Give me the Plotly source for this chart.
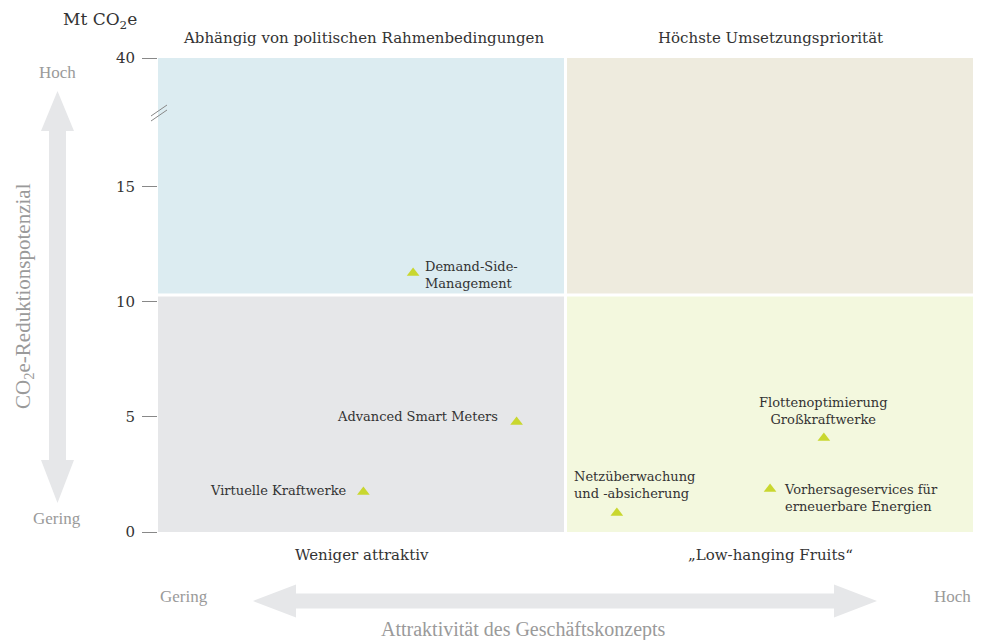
import plotly.graph_objects as go

# ---- data ----
names = ["Demand-Side-<br>Management", "Advanced Smart Meters", "Virtuelle Kraftwerke",
         "Netzüberwachung<br>und -absicherung", "Flottenoptimierung<br>Großkraftwerke",
         "Vorhersageservices für<br>erneuerbare Energien"]
attractiveness = [3.13, 4.40, 2.52, 5.63, 8.17, 7.51]      # 0..10 scale
reduction = [11.26, 4.78, 1.74, 0.83, 4.09, 1.87]          # Mt CO2e
tick_vals = [0, 5, 10, 15, 20.6]
tick_text = ["0", "5", "10", "15", "40"]
quadrant_titles = ["Abhängig von politischen Rahmenbedingungen", "Höchste Umsetzungspriorität",
                   "Weniger attraktiv", "„Low-hanging Fruits“"]

L, R, T, B = 158, 8, 58, 108
W, H = 981, 640
PW, PH = W - L - R, H - T - B

def px(x):
    return (x - L) / PW

def py(y):
    return (H - B - y) / PH

SERIF = "DejaVu Serif"
GREYF = "Liberation Serif"
DARK = "#333333"
GREY = "#9a9a9a"

fig = go.Figure()

# quadrants
XMAX, YMAX, XS, YS = 10, 20.6, 5.0, 10.3
quads = [
    (0, XS, YS, YMAX, "#dcecf1"),
    (XS, XMAX, YS, YMAX, "#eeebde"),
    (0, XS, 0, YS, "#e6e7e9"),
    (XS, XMAX, 0, YS, "#f3f8de"),
]
shapes = []
for x0, x1, y0, y1, c in quads:
    shapes.append(dict(type="rect", xref="x", yref="y", x0=x0, x1=x1, y0=y0, y1=y1,
                       fillcolor=c, line=dict(width=0), layer="below"))
shapes.append(dict(type="line", xref="x", yref="y", x0=XS, x1=XS, y0=0, y1=YMAX,
                   line=dict(color="white", width=3), layer="below"))
shapes.append(dict(type="line", xref="x", yref="y", x0=0, x1=XMAX, y0=YS, y1=YS,
                   line=dict(color="white", width=3), layer="below"))

# axis break mark
for dy in (0, 5):
    shapes.append(dict(type="line", xref="paper", yref="paper",
                       x0=px(151), y0=py(121 - dy), x1=px(167), y1=py(110 - dy),
                       line=dict(color="#888888", width=1)))

# vertical double arrow
cx, sw, hw = 57.5, 8.5, 16.5
top, tb, bb, bot = 91, 131, 460, 503
pts = [(cx, top), (cx + hw, tb), (cx + sw, tb), (cx + sw, bb), (cx + hw, bb), (cx, bot),
       (cx - hw, bb), (cx - sw, bb), (cx - sw, tb), (cx - hw, tb)]
path = "M " + " L ".join(f"{px(a):.5f},{py(b):.5f}" for a, b in pts) + " Z"
shapes.append(dict(type="path", xref="paper", yref="paper", path=path,
                   fillcolor="#e6e7e9", line=dict(width=0)))

# horizontal double arrow
cy, sh, hh = 601, 7.5, 16.5
left, lb, rb, right = 253, 296, 834, 877
pts = [(left, cy), (lb, cy - hh), (lb, cy - sh), (rb, cy - sh), (rb, cy - hh), (right, cy),
       (rb, cy + hh), (rb, cy + sh), (lb, cy + sh), (lb, cy + hh)]
path = "M " + " L ".join(f"{px(a):.5f},{py(b):.5f}" for a, b in pts) + " Z"
shapes.append(dict(type="path", xref="paper", yref="paper", path=path,
                   fillcolor="#e6e7e9", line=dict(width=0)))

# points
fig.add_trace(go.Scatter(x=attractiveness, y=reduction, mode="markers",
                         marker=dict(symbol="triangle-up", size=11, color="#c9d72f"),
                         hoverinfo="skip", showlegend=False, cliponaxis=False))

ann = []
label_cfg = [
    dict(xanchor="left", yanchor="middle", xshift=10, yshift=-2, align="left"),
    dict(xanchor="right", yanchor="middle", xshift=-17, yshift=6, align="right"),
    dict(xanchor="right", yanchor="middle", xshift=-14, yshift=1, align="right"),
    dict(xanchor="left", yanchor="bottom", xshift=-45, yshift=10, align="left"),
    dict(xanchor="center", yanchor="bottom", xshift=0, yshift=9, align="center"),
    dict(xanchor="left", yanchor="top", xshift=12, yshift=9, align="left"),
]
for n, x, y, cfg in zip(names, attractiveness, reduction, label_cfg):
    ann.append(dict(x=x, y=y, xref="x", yref="y", text=n, showarrow=False,
                    font=dict(family=SERIF, size=13, color=DARK), **cfg))

# quadrant titles
for t, x, y in zip(quadrant_titles, [363, 770, 362, 770], [38, 38, 555, 555]):
    ann.append(dict(x=px(x), y=py(y), xref="paper", yref="paper", text=t, showarrow=False,
                    xanchor="center", yanchor="middle",
                    font=dict(family=SERIF, size=15, color=DARK)))

# unit label
ann.append(dict(x=px(100), y=py(21), xref="paper", yref="paper", text="Mt CO<sub>2</sub>e",
                showarrow=False, xanchor="center", yanchor="middle",
                font=dict(family=SERIF, size=17, color=DARK)))

# grey axis texts
for t, x, y in [("Hoch", 57, 73), ("Gering", 57, 518), ("Gering", 184, 596), ("Hoch", 952, 596)]:
    ann.append(dict(x=px(x), y=py(y), xref="paper", yref="paper", text=t, showarrow=False,
                    xanchor="center", yanchor="middle",
                    font=dict(family=GREYF, size=17, color=GREY)))
ann.append(dict(x=px(523), y=py(629), xref="paper", yref="paper",
                text="Attraktivität des Geschäftskonzepts", showarrow=False,
                xanchor="center", yanchor="middle",
                font=dict(family=GREYF, size=20, color=GREY)))
ann.append(dict(x=px(24), y=py(296), xref="paper", yref="paper",
                text="CO<sub>2</sub>e-Reduktionspotenzial", showarrow=False, textangle=-90,
                xanchor="center", yanchor="middle",
                font=dict(family=GREYF, size=21, color=GREY)))

fig.update_layout(
    width=W, height=H,
    margin=dict(l=L, r=R, t=T, b=B),
    paper_bgcolor="white", plot_bgcolor="white",
    shapes=shapes, annotations=ann, showlegend=False,
    xaxis=dict(range=[0, XMAX], showgrid=False, zeroline=False, showticklabels=False,
               showline=False, ticks="", fixedrange=True),
    yaxis=dict(range=[0, YMAX], showgrid=False, zeroline=False, showline=False,
               tickvals=tick_vals, ticktext=tick_text, ticks="outside", ticklen=15,
               tickcolor="#888888", tickwidth=1, ticklabelstandoff=4,
               tickfont=dict(family=SERIF, size=15, color=DARK), fixedrange=True),
)

fig.write_html("out.html", config={"displayModeBar": False, "responsive": False},
               post_script="document.body.style.margin='0';document.body.style.overflow='hidden';")
